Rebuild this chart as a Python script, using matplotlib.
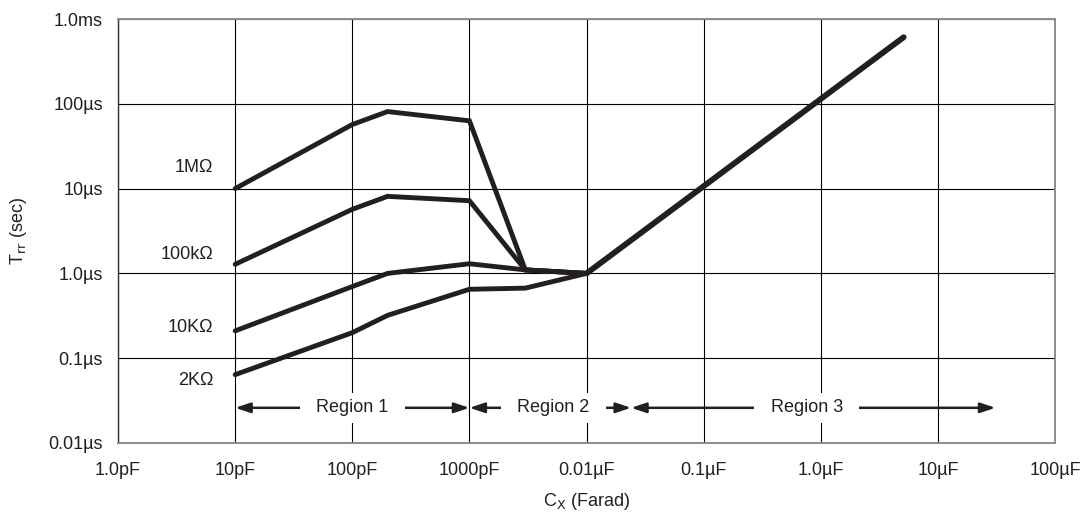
import numpy as np
import matplotlib
matplotlib.use('Agg')
import matplotlib.pyplot as plt

plt.rcParams['font.family'] = ['Liberation Sans Narrow', 'Liberation Sans', 'DejaVu Sans']
plt.rcParams['mathtext.fontset'] = 'custom'
plt.rcParams['mathtext.rm'] = 'Liberation Sans Narrow'
plt.rcParams['mathtext.it'] = 'Liberation Sans Narrow'

# capacitance points (F) for region 1/2
cx = [10e-12, 100e-12, 200e-12, 1000e-12, 3000e-12, 0.01e-6]

# Trr (s) per resistor
trr_1m = [10e-6, 57e-6, 81e-6, 63e-6, 1.1e-6, 1.0e-6]
trr_100k = [1.28e-6, 5.7e-6, 8.1e-6, 7.2e-6, 1.1e-6, 1.0e-6]
trr_10k = [0.21e-6, 0.70e-6, 1.0e-6, 1.3e-6, 1.1e-6, 1.0e-6]
trr_2k = [0.064e-6, 0.20e-6, 0.32e-6, 0.65e-6, 0.67e-6, 1.0e-6]

# common region 3 line
tail_cx = [0.01e-6, 5.1e-6]
tail_trr = [1.0e-6, 6.1e-4]

labels = ['1M\u03a9', '100k\u03a9', '10K\u03a9', '2K\u03a9']
label_y = [17.5e-6, 1.66e-6, 0.233e-6, 0.055e-6]
label_x = 6.5e-12

xticks = [1e-12, 1e-11, 1e-10, 1e-9, 1e-8, 1e-7, 1e-6, 1e-5, 1e-4]
xticklabels = ['1.0pF', '10pF', '100pF', '1000pF', '0.01\u00b5F', '0.1\u00b5F',
               '1.0\u00b5F', '10\u00b5F', '100\u00b5F']
yticks = [1e-8, 1e-7, 1e-6, 1e-5, 1e-4, 1e-3]
yticklabels = ['0.01\u00b5s', '0.1\u00b5s', '1.0\u00b5s', '10\u00b5s', '100\u00b5s', '1.0ms']

# regions: (start, end)
region_bounds = [(10e-12, 1000e-12), (1000e-12, 0.024e-6), (0.024e-6, 31e-6)]
region_names = ['Region 1', 'Region 2', 'Region 3']
region_text_x = [100e-12, 5.2e-9, 7.6e-7]
region_y = 0.026e-6

ink = '#231f20'

fig = plt.figure(figsize=(10.87, 5.18), dpi=100)
ax = fig.add_axes([0.1086, 0.1448, 0.862, 0.8185])
ax.set_xscale('log')
ax.set_yscale('log')
ax.set_xlim(1e-12, 1e-4)
ax.set_ylim(1e-8, 1e-3)

ax.grid(True, which='major', color='black', lw=0.8)
ax.minorticks_off()
ax.set_axisbelow(True)

for s in ['top', 'right', 'bottom']:
    ax.spines[s].set_color('#8c8c8c')
    ax.spines[s].set_linewidth(1.4)
ax.spines['left'].set_color('#333333')
ax.spines['left'].set_linewidth(1.0)

for trr in [trr_1m, trr_100k, trr_10k, trr_2k]:
    ax.plot(cx, trr, color=ink, lw=3.5, solid_capstyle='round', solid_joinstyle='miter', zorder=3)
ax.plot(tail_cx, tail_trr, color=ink, lw=4.2, solid_capstyle='round', zorder=3)

for lab, ly in zip(labels, label_y):
    ax.text(label_x, ly, lab, ha='right', va='center', fontsize=13, color=ink)

for (x0, x1), name, tx in zip(region_bounds, region_names, region_text_x):
    ax.annotate('', xy=(x0, region_y), xytext=(x1, region_y),
                arrowprops=dict(arrowstyle='<|-|>,head_length=0.9,head_width=0.3',
                                color=ink, lw=1.8, shrinkA=0, shrinkB=0), zorder=4)
    ax.text(tx, region_y, '  ' + name + '  ', ha='center', va='center', fontsize=13,
            color=ink, zorder=5,
            bbox=dict(boxstyle='square,pad=0.35', fc='white', ec='none'))

ax.set_xticks(xticks)
ax.set_xticklabels(xticklabels)
ax.set_yticks(yticks)
ax.set_yticklabels(yticklabels)
ax.tick_params(axis='x', length=0, labelsize=13, labelcolor=ink, pad=14)
ax.tick_params(axis='y', length=0, labelsize=13, labelcolor=ink, pad=11)

ax.set_xlabel('C$_{\\mathrm{X}}$ (Farad)', fontsize=13, color=ink, labelpad=8)
ax.set_ylabel('T$_{\\mathrm{rr}}$ (sec)', fontsize=13, color=ink, labelpad=14)

fig.savefig('out.png', dpi=100)
